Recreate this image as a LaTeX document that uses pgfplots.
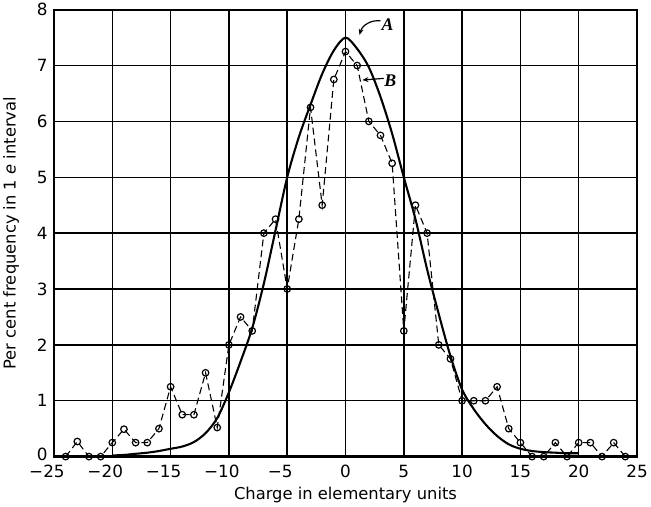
\documentclass[border=0pt]{standalone}
\usepackage{fontspec}
\setmainfont{DejaVu Sans}
\newfontfamily\labelfont{Liberation Serif}
\usepackage{pgfplots}
\pgfplotsset{compat=1.18}
\usetikzlibrary{arrows.meta}

\pgfplotstableread{
x y
-24 0
-23 0.27
-22 0
-21 0
-20 0.25
-19 0.49
-18 0.25
-17 0.25
-16 0.5
-15 1.25
-14 0.75
-13 0.75
-12 1.5
-11 0.52
-10 2.0
-9 2.5
-8 2.25
-7 4.0
-6 4.25
-5 3.0
-4 4.25
-3 6.25
-2 4.5
-1 6.75
0 7.25
1 7.0
2 6.0
3 5.75
4 5.25
5 2.25
6 4.5
7 4.0
8 2.0
9 1.75
10 1.0
11 1.0
12 1.0
13 1.25
14 0.5
15 0.25
16 0
17 0
18 0.25
19 0
20 0.25
21 0.25
22 0
23 0.25
24 0
}\observed

\pgfplotstableread{
x y
-20 0.02
-19 0.03
-18 0.05
-17 0.07
-16 0.10
-15 0.14
-14 0.18
-13 0.26
-12 0.42
-11 0.69
-10 1.15
-9 1.70
-8 2.30
-7 3.10
-6 4.05
-5 5.0
-4 5.72
-3 6.30
-2 6.85
-1 7.27
0 7.5
1 7.30
2 6.97
3 6.44
4 5.78
5 5.0
6 4.25
7 3.35
8 2.55
9 1.80
10 1.20
11 0.85
12 0.58
13 0.37
14 0.22
15 0.14
16 0.10
17 0.08
18 0.07
19 0.06
20 0.06
}\smoothcurve

\begin{document}
\begin{tikzpicture}
\begin{axis}[
  scale only axis, width=587bp, height=450bp,
  xmin=-25, xmax=25, ymin=0, ymax=8,
  xtick={-25,-20,...,25}, ytick={0,1,...,8},
  xticklabels={\llap{−}25,\llap{−}20,\llap{−}15,\llap{−}10,\llap{−}5,0,5,10,15,20,25},
  yticklabels={\raisebox{4bp}{0},1,2,3,4,5,6,7,8},
  grid=major,
  major grid style={black, line width=1.5bp},
  axis line style={line width=2.3bp},
  major tick length=0pt,
  tick label style={font=\fontsize{17}{17}\selectfont},
  xticklabel style={yshift=-5bp},
  yticklabel style={xshift=-3bp},
  label style={font=\fontsize{16.5}{18}\selectfont},
  xlabel={Charge in elementary units},
  ylabel={Per cent frequency in 1 \textit{e} interval},
  xlabel style={yshift=-3bp},
  ylabel style={yshift=11bp},
  clip=false,
]
\addplot[black, line width=2.1bp, smooth, tension=0.5] table {\smoothcurve};
\addplot[black, line width=1.1bp, dash pattern=on 7bp off 4bp,
  mark=o, mark size=3.3bp,
  mark options={solid, fill=white, line width=1.2bp}] table {\observed};

\draw[black, line width=1.2bp, -{Stealth[length=6bp,width=5bp]}]
  (axis cs:3.0,7.80) to[bend right=40] (axis cs:1.2,7.55);
\node[font=\labelfont\bfseries\itshape\fontsize{18}{18}\selectfont]
  at (axis cs:3.6,7.73) {A};
\draw[black, line width=1.2bp, -{Stealth[length=6bp,width=5bp]}]
  (axis cs:3.28,6.77) -- (axis cs:1.45,6.74);
\node[font=\labelfont\bfseries\itshape\fontsize{18}{18}\selectfont]
  at (axis cs:3.85,6.72) {B};
\end{axis}
\end{tikzpicture}
\end{document}
